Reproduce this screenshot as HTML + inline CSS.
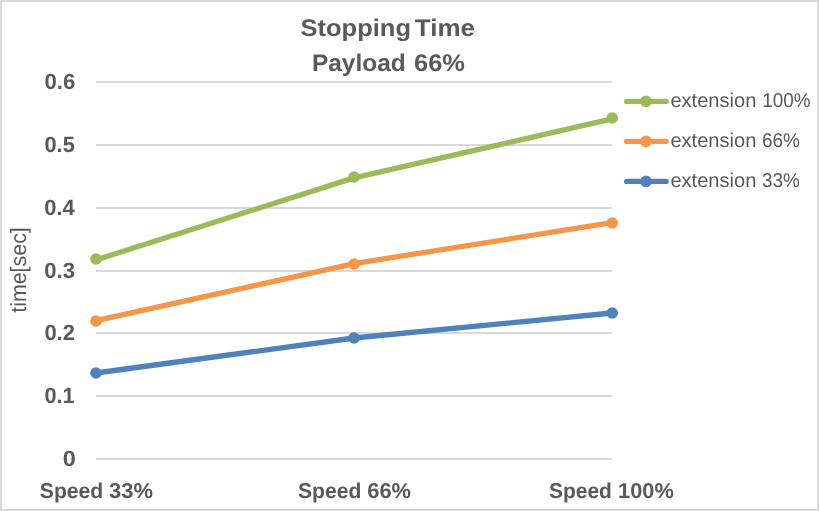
<!DOCTYPE html>
<html lang="en">
<head>
<meta charset="utf-8">
<title>Stopping Time - Payload 66%</title>
<style>
html,body{margin:0;padding:0;background:#fff;}
body{width:819px;height:511px;overflow:hidden;}
svg{display:block;}
text{font-family:"Liberation Sans",sans-serif;fill:#595959;text-rendering:geometricPrecision;}
.b{font-weight:bold;}
</style>
</head>
<body>
<svg width="819" height="511" viewBox="0 0 819 511">
  <rect x="0" y="0" width="819" height="511" fill="#ffffff"/>
  <!-- chart border -->
  <rect x="1" y="1" width="817" height="509" fill="none" stroke="#d9d9d9" stroke-width="2"/>

  <!-- gridlines -->
  <g fill="#d9d9d9">
    <rect x="96" y="81" width="516" height="2"/>
    <rect x="96" y="144" width="516" height="2"/>
    <rect x="96" y="207" width="516" height="2"/>
    <rect x="96" y="270" width="516" height="2"/>
    <rect x="96" y="332" width="516" height="2"/>
    <rect x="96" y="395" width="516" height="2"/>
    <rect x="96" y="458" width="516" height="2"/>
  </g>
  <!-- text labels -->
  <text class="b" font-size="24.0" y="35.6"><tspan id="t1a" x="300.57" textLength="110.38" lengthAdjust="spacingAndGlyphs">Stopping</tspan> <tspan id="t1b" x="414.80" textLength="60.18" lengthAdjust="spacingAndGlyphs">Time</tspan></text>
  <text class="b" font-size="24.0" y="70.5"><tspan id="t2a" x="311.91" textLength="93.78" lengthAdjust="spacingAndGlyphs">Payload</tspan> <tspan id="t2b" x="414.00" textLength="50.93" lengthAdjust="spacingAndGlyphs">66%</tspan></text>
  <text class="b" font-size="21.5" y="498.3"><tspan id="x1a" x="39.78" textLength="63.50" lengthAdjust="spacingAndGlyphs">Speed</tspan> <tspan id="x1b" x="109.09" textLength="43.90" lengthAdjust="spacingAndGlyphs">33%</tspan></text>
  <text class="b" font-size="21.5" y="498.3"><tspan id="x2a" x="297.94" textLength="63.34" lengthAdjust="spacingAndGlyphs">Speed</tspan> <tspan id="x2b" x="367.24" textLength="43.79" lengthAdjust="spacingAndGlyphs">66%</tspan></text>
  <text class="b" font-size="21.5" y="498.3"><tspan id="x3a" x="548.95" textLength="62.94" lengthAdjust="spacingAndGlyphs">Speed</tspan> <tspan id="x3b" x="618.12" textLength="55.72" lengthAdjust="spacingAndGlyphs">100%</tspan></text>
  <text font-size="20" y="107.45"><tspan id="l1a" x="670.38" textLength="85.98" lengthAdjust="spacingAndGlyphs">extension</tspan> <tspan id="l1b" x="762.27" textLength="48.41" lengthAdjust="spacingAndGlyphs">100%</tspan></text>
  <text font-size="20" y="147.45"><tspan id="l2a" x="670.38" textLength="85.98" lengthAdjust="spacingAndGlyphs">extension</tspan> <tspan id="l2b" x="762.00" textLength="37.98" lengthAdjust="spacingAndGlyphs">66%</tspan></text>
  <text font-size="20" y="187.45"><tspan id="l3a" x="670.38" textLength="85.98" lengthAdjust="spacingAndGlyphs">extension</tspan> <tspan id="l3b" x="761.99" textLength="37.88" lengthAdjust="spacingAndGlyphs">33%</tspan></text>
  <text class="b" font-size="22.0" y="89.1"><tspan id="y0_6" x="44.51" textLength="30.84" lengthAdjust="spacingAndGlyphs">0.6</tspan></text>
  <text class="b" font-size="22.0" y="152.1"><tspan id="y0_5" x="44.46" textLength="30.31" lengthAdjust="spacingAndGlyphs">0.5</tspan></text>
  <text class="b" font-size="22.0" y="215.1"><tspan id="y0_4" x="44.33" textLength="30.43" lengthAdjust="spacingAndGlyphs">0.4</tspan></text>
  <text class="b" font-size="22.0" y="278.1"><tspan id="y0_3" x="44.36" textLength="30.64" lengthAdjust="spacingAndGlyphs">0.3</tspan></text>
  <text class="b" font-size="22.0" y="340.1"><tspan id="y0_2" x="44.42" textLength="30.55" lengthAdjust="spacingAndGlyphs">0.2</tspan></text>
  <text class="b" font-size="22.0" y="403.1"><tspan id="y0_1" x="44.49" textLength="30.19" lengthAdjust="spacingAndGlyphs">0.1</tspan></text>
  <text class="b" font-size="22.0" y="466.1"><tspan id="y0" x="62.65" textLength="13.04" lengthAdjust="spacingAndGlyphs">0</tspan></text>

  <!-- y axis title -->
  <text id="ytitle" transform="translate(26.2,312.8) rotate(-90)" font-size="22" textLength="85.6" lengthAdjust="spacingAndGlyphs">time[sec]</text>

  <!-- series -->
  <g fill="none" stroke-width="5.3" stroke-linecap="round" stroke-linejoin="round">
    <polyline stroke="#4f81bd" points="96,373 354,338 612,313"/>
    <polyline stroke="#f79646" points="96,320.6 354,263.6 612,222.6"/>
    <polyline stroke="#9bbb59" points="96,259.9 354,177.9 612,118.9"/>
  </g>
  <g fill="#4f81bd"><circle cx="96" cy="373" r="5.8"/><circle cx="354" cy="338" r="5.8"/><circle cx="612.2" cy="313" r="5.8"/></g>
  <g fill="#f79646"><circle cx="96" cy="321" r="5.8"/><circle cx="354" cy="264" r="5.8"/><circle cx="612.2" cy="223" r="5.8"/></g>
  <g fill="#9bbb59"><circle cx="96" cy="259" r="5.8"/><circle cx="354" cy="177" r="5.8"/><circle cx="612.2" cy="118" r="5.8"/></g>

  <!-- legend -->
  <g stroke-width="5.1" stroke-linecap="round">
    <line x1="626.5" y1="101.4" x2="666.2" y2="101.4" stroke="#9bbb59"/>
    <line x1="626.5" y1="141.4" x2="666.2" y2="141.4" stroke="#f79646"/>
    <line x1="626.5" y1="181.4" x2="666.2" y2="181.4" stroke="#4f81bd"/>
  </g>
  <circle cx="646" cy="101.4" r="5.8" fill="#9bbb59"/>
  <circle cx="646" cy="141.4" r="5.8" fill="#f79646"/>
  <circle cx="646" cy="181.4" r="5.8" fill="#4f81bd"/>
</svg>
</body>
</html>
